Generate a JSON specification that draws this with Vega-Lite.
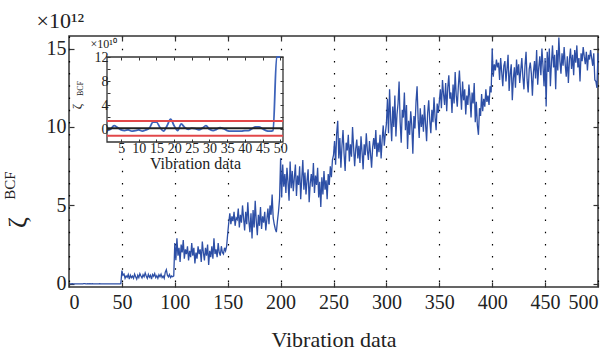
{
"$schema": "https://vega.github.io/schema/vega-lite/v6.json",
"width": 529, "height": 251,
"autosize": "none",
"padding": {"left": 69, "top": 36, "right": 13, "bottom": 66},
"config": {"view": {"stroke": "#333", "strokeWidth": 1.5}, "font": "Liberation Serif",
 "axis": {"labelFont": "Liberation Serif", "titleFont": "Liberation Serif", "labelColor": "#222", "titleColor": "#222", "tickColor": "#333", "titleFontWeight": "normal", "domain": false, "grid": false}},
"datasets": {
"main": [
{"x":1,"v":-0.002},{"x":2,"v":0},{"x":3,"v":0.006},{"x":4,"v":0.003},{"x":5,"v":-0.001},{"x":6,"v":-0.002},{"x":7,"v":-0.001},{"x":8,"v":-0.003},{"x":9,"v":-0.002},{"x":10,"v":-0.001},
{"x":11,"v":-0.003},{"x":12,"v":-0.001},{"x":13,"v":0.002},{"x":14,"v":0.012},{"x":15,"v":0.012},{"x":16,"v":0.003},{"x":17,"v":-0.003},{"x":18,"v":0.006},{"x":19,"v":0.017},{"x":20,"v":0.006},
{"x":21,"v":-0.002},{"x":22,"v":0.009},{"x":23,"v":0.003},{"x":24,"v":0},{"x":25,"v":0.002},{"x":26,"v":0.001},{"x":27,"v":-0.001},{"x":28,"v":0.002},{"x":29,"v":0.006},{"x":30,"v":0},
{"x":31,"v":-0.002},{"x":32,"v":0},{"x":33,"v":0.003},{"x":34,"v":0.001},{"x":35,"v":-0.002},{"x":36,"v":-0.003},{"x":37,"v":-0.003},{"x":38,"v":-0.003},{"x":39,"v":-0.003},{"x":40,"v":-0.002},
{"x":41,"v":-0.002},{"x":42,"v":0.001},{"x":43,"v":0.004},{"x":44,"v":0.004},{"x":45,"v":0.001},{"x":46,"v":-0.002},{"x":47,"v":-0.003},{"x":48,"v":-0.002},{"x":49,"v":0.01},
{"x":50,"v":0.85},{"x":51,"v":0.55},{"x":52,"v":0.62},{"x":53,"v":0.35},{"x":54,"v":0.5},{"x":55,"v":0.42},{"x":56,"v":0.6},{"x":57,"v":0.3},{"x":58,"v":0.55},{"x":59,"v":0.4},
{"x":60,"v":0.5},{"x":61,"v":0.35},{"x":62,"v":0.62},{"x":63,"v":0.45},{"x":64,"v":0.3},{"x":65,"v":0.55},{"x":66,"v":0.4},{"x":67,"v":0.65},{"x":68,"v":0.5},{"x":69,"v":0.38},
{"x":70,"v":0.58},{"x":71,"v":0.45},{"x":72,"v":0.7},{"x":73,"v":0.5},{"x":74,"v":0.35},{"x":75,"v":0.6},{"x":76,"v":0.42},{"x":77,"v":0.55},{"x":78,"v":0.3},{"x":79,"v":0.6},
{"x":80,"v":0.48},{"x":81,"v":0.65},{"x":82,"v":0.4},{"x":83,"v":0.52},{"x":84,"v":0.35},{"x":85,"v":0.58},{"x":86,"v":0.45},{"x":87,"v":0.62},{"x":88,"v":0.4},{"x":89,"v":0.5},
{"x":90,"v":0.35},{"x":91,"v":0.75},{"x":92,"v":0.9},{"x":93,"v":0.55},{"x":94,"v":0.45},{"x":95,"v":0.6},{"x":96,"v":0.4},{"x":97,"v":0.5},{"x":98,"v":0.45},{"x":99,"v":0.5},
{"x":100,"v":2.6},{"x":101,"v":1.5},{"x":102,"v":2.9},{"x":103,"v":1.8},{"x":104,"v":2.3},{"x":105,"v":1.4},{"x":106,"v":2.5},{"x":107,"v":2.0},{"x":108,"v":2.8},{"x":109,"v":1.6},
{"x":110,"v":2.2},{"x":111,"v":1.9},{"x":112,"v":2.4},{"x":113,"v":1.5},{"x":114,"v":2.1},{"x":115,"v":1.7},{"x":116,"v":2.6},{"x":117,"v":1.8},{"x":118,"v":2.3},{"x":119,"v":1.3},
{"x":120,"v":2.0},{"x":121,"v":1.6},{"x":122,"v":2.4},{"x":123,"v":1.9},{"x":124,"v":2.2},{"x":125,"v":1.4},{"x":126,"v":2.7},{"x":127,"v":2.0},{"x":128,"v":1.5},{"x":129,"v":2.3},
{"x":130,"v":1.8},{"x":131,"v":2.5},{"x":132,"v":1.2},{"x":133,"v":2.1},{"x":134,"v":1.7},{"x":135,"v":2.4},{"x":136,"v":1.6},{"x":137,"v":2.9},{"x":138,"v":1.9},{"x":139,"v":2.2},
{"x":140,"v":1.7},{"x":141,"v":2.6},{"x":142,"v":2.0},{"x":143,"v":1.8},{"x":144,"v":2.4},{"x":145,"v":2.0},{"x":146,"v":1.9},{"x":147,"v":2.3},{"x":148,"v":2.1},{"x":149,"v":2.4},
{"x":150,"v":3.2},{"x":151,"v":3.9},{"x":152,"v":4.5},{"x":153,"v":3.8},{"x":154,"v":4.3},{"x":155,"v":4.0},{"x":156,"v":4.6},{"x":157,"v":3.7},{"x":158,"v":4.2},{"x":159,"v":4.1},
{"x":160,"v":4.8},{"x":161,"v":3.6},{"x":162,"v":4.4},{"x":163,"v":3.9},{"x":164,"v":5.0},{"x":165,"v":4.2},{"x":166,"v":3.4},{"x":167,"v":4.6},{"x":168,"v":3.8},{"x":169,"v":5.2},
{"x":170,"v":4.0},{"x":171,"v":3.3},{"x":172,"v":4.5},{"x":173,"v":2.9},{"x":174,"v":4.7},{"x":175,"v":3.6},{"x":176,"v":5.3},{"x":177,"v":4.0},{"x":178,"v":3.1},{"x":179,"v":4.4},
{"x":180,"v":3.7},{"x":181,"v":4.9},{"x":182,"v":3.5},{"x":183,"v":4.3},{"x":184,"v":3.9},{"x":185,"v":4.6},{"x":186,"v":3.4},{"x":187,"v":4.1},{"x":188,"v":4.8},{"x":189,"v":3.8},
{"x":190,"v":5.0},{"x":191,"v":4.4},{"x":192,"v":5.7},{"x":193,"v":4.2},{"x":194,"v":3.8},{"x":195,"v":3.5},{"x":196,"v":3.3},{"x":197,"v":4.0},{"x":198,"v":4.6},{"x":199,"v":5.4},
{"x":200,"v":8.0},{"x":201,"v":5.5},{"x":202,"v":7.6},{"x":203,"v":6.2},{"x":204,"v":7.0},{"x":205,"v":5.8},{"x":206,"v":7.4},{"x":207,"v":6.5},{"x":208,"v":5.3},{"x":209,"v":7.8},
{"x":210,"v":6.1},{"x":211,"v":7.2},{"x":212,"v":5.9},{"x":213,"v":6.8},{"x":214,"v":7.6},{"x":215,"v":5.6},{"x":216,"v":6.9},{"x":217,"v":6.3},{"x":218,"v":7.5},{"x":219,"v":5.4},
{"x":220,"v":6.7},{"x":221,"v":7.9},{"x":222,"v":6.0},{"x":223,"v":7.1},{"x":224,"v":5.7},{"x":225,"v":6.6},{"x":226,"v":7.3},{"x":227,"v":5.2},{"x":228,"v":6.4},{"x":229,"v":7.0},
{"x":230,"v":6.2},{"x":231,"v":7.7},{"x":232,"v":5.8},{"x":233,"v":6.9},{"x":234,"v":6.3},{"x":235,"v":7.4},{"x":236,"v":5.5},{"x":237,"v":6.5},{"x":238,"v":4.9},{"x":239,"v":6.8},
{"x":240,"v":5.7},{"x":241,"v":7.2},{"x":242,"v":6.0},{"x":243,"v":6.6},{"x":244,"v":5.4},{"x":245,"v":7.0},{"x":246,"v":6.3},{"x":247,"v":7.5},{"x":248,"v":6.8},{"x":249,"v":7.9},
{"x":250,"v":8.2},{"x":251,"v":9.1},{"x":252,"v":7.6},{"x":253,"v":9.6},{"x":254,"v":10.4},{"x":255,"v":8.0},{"x":256,"v":9.3},{"x":257,"v":7.4},{"x":258,"v":8.8},{"x":259,"v":9.8},
{"x":260,"v":8.3},{"x":261,"v":7.2},{"x":262,"v":9.0},{"x":263,"v":8.5},{"x":264,"v":9.5},{"x":265,"v":7.8},{"x":266,"v":8.9},{"x":267,"v":8.1},{"x":268,"v":10.0},{"x":269,"v":8.7},
{"x":270,"v":7.5},{"x":271,"v":8.6},{"x":272,"v":9.2},{"x":273,"v":8.0},{"x":274,"v":8.8},{"x":275,"v":7.7},{"x":276,"v":9.4},{"x":277,"v":8.4},{"x":278,"v":7.3},{"x":279,"v":8.9},
{"x":280,"v":8.2},{"x":281,"v":9.6},{"x":282,"v":8.5},{"x":283,"v":7.9},{"x":284,"v":9.1},{"x":285,"v":8.3},{"x":286,"v":7.4},{"x":287,"v":8.7},{"x":288,"v":9.3},{"x":289,"v":8.6},
{"x":290,"v":9.8},{"x":291,"v":8.1},{"x":292,"v":9.0},{"x":293,"v":8.4},{"x":294,"v":9.5},{"x":295,"v":8.0},{"x":296,"v":9.2},{"x":297,"v":10.1},{"x":298,"v":8.8},{"x":299,"v":9.6},
{"x":300,"v":10.2},{"x":301,"v":11.8},{"x":302,"v":9.6},{"x":303,"v":12.4},{"x":304,"v":10.5},{"x":305,"v":9.1},{"x":306,"v":11.3},{"x":307,"v":10.0},{"x":308,"v":12.0},{"x":309,"v":9.4},
{"x":310,"v":10.8},{"x":311,"v":11.5},{"x":312,"v":12.9},{"x":313,"v":10.3},{"x":314,"v":9.0},{"x":315,"v":11.1},{"x":316,"v":10.6},{"x":317,"v":12.2},{"x":318,"v":9.8},{"x":319,"v":11.4},
{"x":320,"v":8.6},{"x":321,"v":10.4},{"x":322,"v":9.5},{"x":323,"v":11.0},{"x":324,"v":10.1},{"x":325,"v":8.3},{"x":326,"v":10.7},{"x":327,"v":9.9},{"x":328,"v":11.6},{"x":329,"v":12.6},
{"x":330,"v":10.5},{"x":331,"v":9.3},{"x":332,"v":11.2},{"x":333,"v":10.0},{"x":334,"v":10.8},{"x":335,"v":9.7},{"x":336,"v":11.4},{"x":337,"v":10.2},{"x":338,"v":9.1},{"x":339,"v":10.9},
{"x":340,"v":11.7},{"x":341,"v":10.4},{"x":342,"v":9.6},{"x":343,"v":11.1},{"x":344,"v":10.3},{"x":345,"v":11.9},{"x":346,"v":10.6},{"x":347,"v":9.8},{"x":348,"v":11.5},{"x":349,"v":10.9},
{"x":350,"v":11.6},{"x":351,"v":12.4},{"x":352,"v":11.2},{"x":353,"v":13.0},{"x":354,"v":12.1},{"x":355,"v":11.4},{"x":356,"v":12.8},{"x":357,"v":11.0},{"x":358,"v":12.5},{"x":359,"v":13.3},
{"x":360,"v":11.8},{"x":361,"v":12.2},{"x":362,"v":10.9},{"x":363,"v":12.7},{"x":364,"v":11.5},{"x":365,"v":13.5},{"x":366,"v":12.0},{"x":367,"v":11.3},{"x":368,"v":12.6},{"x":369,"v":13.6},
{"x":370,"v":12.3},{"x":371,"v":11.1},{"x":372,"v":12.9},{"x":373,"v":11.7},{"x":374,"v":12.4},{"x":375,"v":10.8},{"x":376,"v":12.0},{"x":377,"v":11.4},{"x":378,"v":12.7},{"x":379,"v":11.9},
{"x":380,"v":10.6},{"x":381,"v":12.2},{"x":382,"v":11.5},{"x":383,"v":12.8},{"x":384,"v":10.3},{"x":385,"v":11.6},{"x":386,"v":10.1},{"x":387,"v":9.5},{"x":388,"v":11.2},{"x":389,"v":10.7},
{"x":390,"v":12.1},{"x":391,"v":11.0},{"x":392,"v":11.8},{"x":393,"v":11.3},{"x":394,"v":12.4},{"x":395,"v":11.6},{"x":396,"v":12.0},{"x":397,"v":11.4},{"x":398,"v":12.6},{"x":399,"v":12.2},
{"x":400,"v":15.0},{"x":401,"v":13.2},{"x":402,"v":14.0},{"x":403,"v":13.6},{"x":404,"v":14.3},{"x":405,"v":13.8},{"x":406,"v":14.1},{"x":407,"v":13.0},{"x":408,"v":14.4},{"x":409,"v":13.5},
{"x":410,"v":12.6},{"x":411,"v":13.9},{"x":412,"v":14.2},{"x":413,"v":12.9},{"x":414,"v":13.7},{"x":415,"v":14.6},{"x":416,"v":12.3},{"x":417,"v":13.4},{"x":418,"v":14.0},{"x":419,"v":11.7},
{"x":420,"v":13.1},{"x":421,"v":13.8},{"x":422,"v":12.5},{"x":423,"v":14.3},{"x":424,"v":13.3},{"x":425,"v":14.0},{"x":426,"v":12.8},{"x":427,"v":13.6},{"x":428,"v":14.4},{"x":429,"v":13.2},
{"x":430,"v":12.4},{"x":431,"v":13.9},{"x":432,"v":14.8},{"x":433,"v":13.0},{"x":434,"v":12.2},{"x":435,"v":13.7},{"x":436,"v":14.1},{"x":437,"v":13.4},{"x":438,"v":12.0},{"x":439,"v":13.5},
{"x":440,"v":14.2},{"x":441,"v":13.1},{"x":442,"v":14.9},{"x":443,"v":12.7},{"x":444,"v":13.8},{"x":445,"v":14.5},{"x":446,"v":13.3},{"x":447,"v":15.0},{"x":448,"v":13.9},{"x":449,"v":12.6},
{"x":450,"v":14.4},{"x":451,"v":11.3},{"x":452,"v":14.8},{"x":453,"v":13.5},{"x":454,"v":15.0},{"x":455,"v":12.6},{"x":456,"v":14.1},{"x":457,"v":15.2},{"x":458,"v":13.8},{"x":459,"v":14.6},
{"x":460,"v":12.4},{"x":461,"v":14.9},{"x":462,"v":13.6},{"x":463,"v":15.7},{"x":464,"v":14.2},{"x":465,"v":13.4},{"x":466,"v":14.7},{"x":467,"v":13.9},{"x":468,"v":15.1},{"x":469,"v":14.0},
{"x":470,"v":13.2},{"x":471,"v":14.5},{"x":472,"v":12.8},{"x":473,"v":14.3},{"x":474,"v":15.0},{"x":475,"v":13.7},{"x":476,"v":14.6},{"x":477,"v":13.3},{"x":478,"v":14.9},{"x":479,"v":14.1},
{"x":480,"v":15.2},{"x":481,"v":13.8},{"x":482,"v":14.4},{"x":483,"v":12.9},{"x":484,"v":14.7},{"x":485,"v":14.2},{"x":486,"v":15.1},{"x":487,"v":14.5},{"x":488,"v":14.0},{"x":489,"v":14.8},
{"x":490,"v":13.6},{"x":491,"v":14.6},{"x":492,"v":14.3},{"x":493,"v":14.9},{"x":494,"v":14.4},{"x":495,"v":13.9},{"x":496,"v":14.7},{"x":497,"v":13.0},{"x":498,"v":12.9},{"x":499,"v":12.5},
{"x":500,"v":14.7}
],
"inset": [
{"a":1,"v":-0.2},{"a":2,"v":0.0},{"a":3,"v":0.6},{"a":4,"v":0.3},{"a":5,"v":-0.1},{"a":6,"v":-0.2},{"a":7,"v":-0.1},{"a":8,"v":-0.3},{"a":9,"v":-0.2},{"a":10,"v":-0.1},
{"a":11,"v":-0.3},{"a":12,"v":-0.1},{"a":13,"v":0.2},{"a":14,"v":1.2},{"a":15,"v":1.2},{"a":16,"v":0.3},{"a":17,"v":-0.3},{"a":18,"v":0.6},{"a":19,"v":1.7},{"a":20,"v":0.6},
{"a":21,"v":-0.2},{"a":22,"v":0.9},{"a":23,"v":0.3},{"a":24,"v":0.0},{"a":25,"v":0.2},{"a":26,"v":0.1},{"a":27,"v":-0.1},{"a":28,"v":0.2},{"a":29,"v":0.6},{"a":30,"v":0.0},
{"a":31,"v":-0.2},{"a":32,"v":0.0},{"a":33,"v":0.3},{"a":34,"v":0.1},{"a":35,"v":-0.2},{"a":36,"v":-0.3},{"a":37,"v":-0.3},{"a":38,"v":-0.3},{"a":39,"v":-0.3},{"a":40,"v":-0.2},
{"a":41,"v":-0.2},{"a":42,"v":0.1},{"a":43,"v":0.4},{"a":44,"v":0.4},{"a":45,"v":0.1},{"a":46,"v":-0.2},{"a":47,"v":-0.3},{"a":48,"v":-0.2},{"a":49,"v":80},{"a":50,"v":55}
],
"thr": [
{"a":1,"b":50.8,"v":1.4,"k":"upper"},{"a":1,"b":50.8,"v":-1.05,"k":"lower"},{"a":1,"b":50.8,"v":0.2,"k":"mean"}
],
"box": [{"a":1,"b":50.8,"v":-2.1,"v2":12}]
},
"resolve": {"scale": {"x": "independent", "y": "independent"}},
"layer": [
{
 "layer": [
  {"data": {"name": "main"}, "mark": {"type": "line", "color": "#2d4fa6", "strokeWidth": 1.3},
   "encoding": {
    "x": {"field": "x", "type": "quantitative", "scale": {"domain": [0, 500], "nice": false, "zero": false},
      "axis": {"orient": "bottom", "values": [0,50,100,150,200,250,300,350,400,450,500], "tickSize": -5, "tickWidth": 1.2,
        "grid": true, "gridDash": [1.5, 10.7], "gridColor": "#000", "gridWidth": 1.2, "gridOpacity": 1,
        "labelFontSize": 20, "labelPadding": 10, "title": "Vibration data", "titleFontSize": 22, "titleY": 59, "titleBaseline": "alphabetic"}},
    "y": {"field": "v", "type": "quantitative", "scale": {"domain": [-0.2, 15.8], "nice": false, "zero": false},
      "axis": {"orient": "left", "values": [0,5,10,15], "tickSize": -5, "tickWidth": 1.2, "labelFontSize": 20, "labelPadding": 8,
        "title": "ζ", "titleFontSize": 26, "titleAngle": -90, "titleX": -44, "titleY": 186, "titleAlign": "center", "titleBaseline": "alphabetic"}}
   }},
  {"mark": {"type": "rule", "color": "#b3242a", "strokeWidth": 2.2}, "encoding": {"y": {"datum": 0}}}
 ]
},
{
 "data": {"name": "box"},
 "mark": {"type": "point", "opacity": 0},
 "encoding": {
  "x": {"datum": 0, "type": "quantitative", "scale": {"domain": [0, 500], "nice": false, "zero": false},
    "axis": {"orient": "top", "values": [50,100,150,200,250,300,350,400,450], "tickSize": -5, "tickWidth": 1.2, "labels": false,
      "title": "×10¹²", "titleFontSize": 22, "titleX": -33, "titleY": -9, "titleAlign": "left", "titleBaseline": "alphabetic", "titleAngle": 0}},
  "y": {"datum": 0, "type": "quantitative", "scale": {"domain": [-0.2, 15.8], "nice": false, "zero": false},
    "axis": {"orient": "right", "values": [0,5,10,15], "tickSize": -5, "tickWidth": 1.2, "labels": false,
      "title": "BCF", "titleFontSize": 15, "titleAngle": -90, "titleX": -584, "titleY": 149, "titleAlign": "center", "titleBaseline": "alphabetic"}}
 }
},
{
 "layer": [
  {"data": {"name": "box"}, "mark": {"type": "rect", "fill": "white", "stroke": "#333", "strokeWidth": 1.3},
   "encoding": {
    "x": {"field": "a", "type": "quantitative", "title": "Vibration data", "scale": {"domain": [1, 50.8], "range": [38, 214], "nice": false, "zero": false},
      "axis": {"orient": "bottom", "offset": -145, "zindex": 1, "values": [5,10,15,20,25,30,35,40,45,50], "tickSize": -3, "labelFontSize": 14, "labelPadding": 2,
        "titleFontSize": 16, "titlePadding": 0}},
    "x2": {"field": "b"},
    "y": {"field": "v", "type": "quantitative", "title": "ζ", "scale": {"domain": [-2.1, 12], "range": [106, 21], "nice": false, "zero": false, "clamp": true},
      "axis": {"orient": "left", "offset": -38, "zindex": 1, "values": [0,2,4,6,8,10,12], "tickSize": -3, "labelFontSize": 14, "labelPadding": 2,
        "titleFontSize": 13, "titleAngle": -90, "titleX": -27, "titleY": 70, "titleAlign": "center", "titleBaseline": "alphabetic"}},
    "y2": {"field": "v2"}
   }},
  {"data": {"name": "inset"}, "mark": {"type": "line", "color": "#3d63ba", "strokeWidth": 1.8, "interpolate": "monotone"},
   "encoding": {
    "x": {"field": "a", "type": "quantitative", "title": "Vibration data"},
    "y": {"field": "v", "type": "quantitative", "title": "ζ"}
   }},
  {"data": {"name": "thr"}, "mark": {"type": "rule"},
   "encoding": {
    "x": {"field": "a", "type": "quantitative", "title": "Vibration data"},
    "x2": {"field": "b"},
    "y": {"field": "v", "type": "quantitative", "title": "ζ"},
    "color": {"field": "k", "type": "nominal", "scale": {"domain": ["upper", "lower", "mean"], "range": ["#e2474a", "#e2474a", "#222222"]}, "legend": null},
    "strokeWidth": {"field": "k", "type": "nominal", "scale": {"domain": ["upper", "lower", "mean"], "range": [2, 2, 1.5]}, "legend": null}
   }}
 ]
},
{
 "data": {"name": "box"},
 "mark": {"type": "point", "opacity": 0},
 "encoding": {
  "x": {"datum": 1, "type": "quantitative", "scale": {"domain": [1, 50.8], "range": [38, 214], "nice": false, "zero": false},
    "axis": {"orient": "top", "offset": -21, "zindex": 1, "values": [5,10,15,20,25,30,35,40,45,50], "tickSize": -3, "labels": false,
      "title": "×10¹⁰", "titleFontSize": 12, "titleX": 21, "titleY": -10, "titleAlign": "left", "titleBaseline": "alphabetic", "titleAngle": 0}},
  "y": {"datum": 0, "type": "quantitative", "scale": {"domain": [-2.1, 12], "range": [106, 21], "nice": false, "zero": false},
    "axis": {"orient": "right", "offset": -315, "zindex": 1, "values": [0,2,4,6,8,10,12], "tickSize": -3, "labels": false,
      "title": "BCF", "titleFontSize": 8, "titleAngle": -90, "titleX": -201, "titleY": 52, "titleAlign": "center", "titleBaseline": "alphabetic"}}
 }
}
]
}
